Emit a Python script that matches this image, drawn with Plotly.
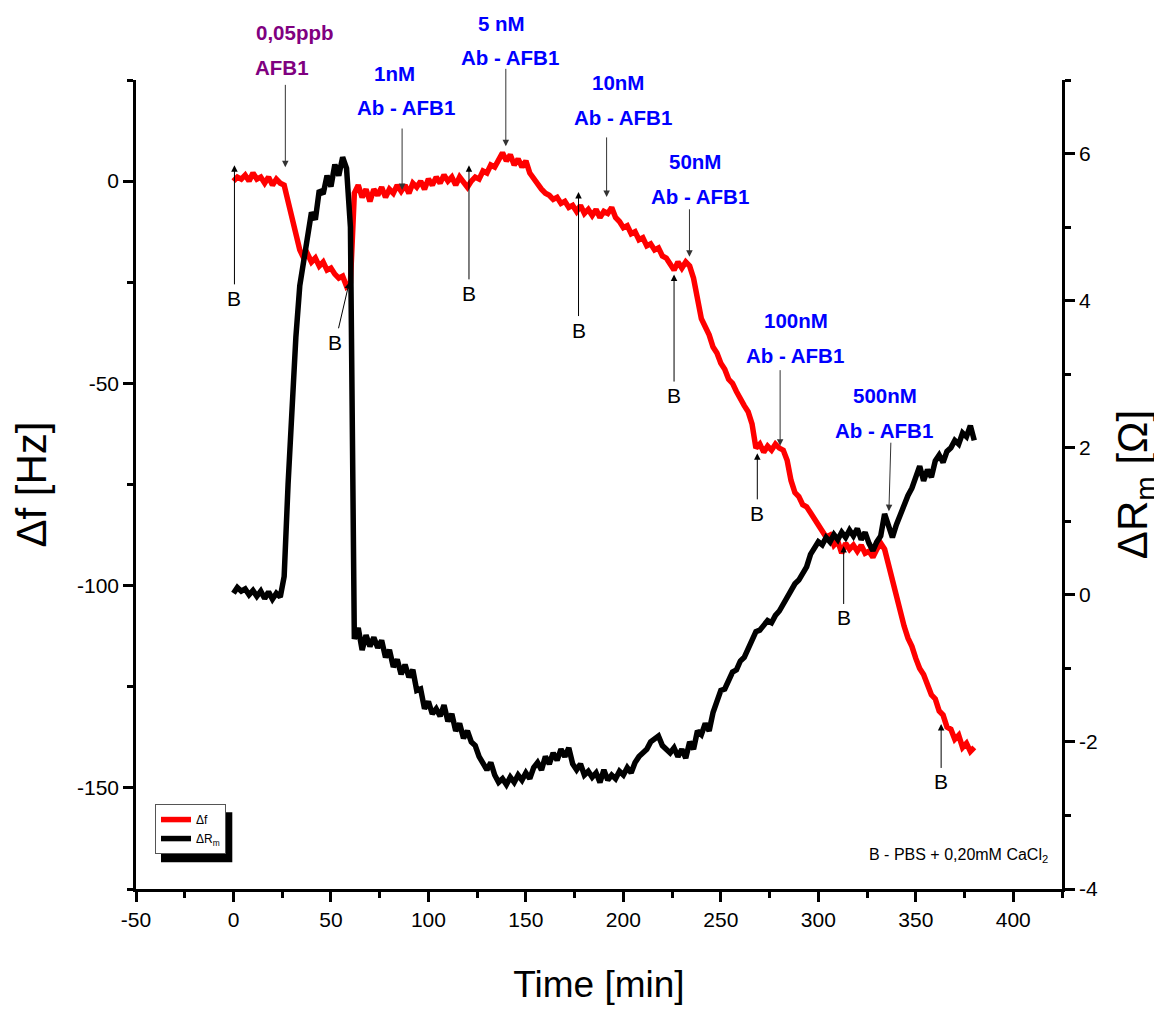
import plotly.graph_objects as go

time_min = list(range(0, 381, 2))

delta_f = [
    0, 1, 0.5, 1.5, 0, 2, 0.5, 1, -0.5, 1, -1, 0.5, -0.5, -1, -5, -9, -13, -17, -19, -18,
    -20, -19, -21, -20, -22, -21.5, -23, -24, -23.5, -26, -25, -3, -1, -4, -2, -5, -2, -3.5, -1.5, -4,
    -2, -3, -1, -2.5, -1, -3, -0.5, -1.5, 0, -2, 0.5, -1, 1, -0.5, 1.5, 0, 1, -1, 1, -0.5,
    -1.5, 0, 1, 0.5, 2.5, 2, 4, 3.5, 5.5, 7, 5, 6.5, 4, 5.5, 3.5, 5, 2, 0.5, -1, -2,
    -3, -3.5, -4.5, -4, -5.5, -5, -6.5, -6, -7.5, -6, -8, -7, -8.5, -7, -9, -7.5, -8, -6.5, -9, -10,
    -11.5, -11, -13, -12.5, -14.5, -14, -16, -15.5, -17, -16.5, -18.5, -19, -20.5, -22, -20, -21.5, -20, -21, -24, -29,
    -34, -36, -38, -41, -42.5, -45, -46.5, -49, -50, -52, -54, -55.5, -57, -60, -66, -65, -67, -65.5, -66.5, -65,
    -66, -66.5, -69, -74, -77, -78, -80, -80.5, -82, -83.5, -85, -86, -88, -87.5, -90, -89, -92, -89.5, -91, -90,
    -91.5, -90, -92, -91.5, -93, -91, -89.5, -91, -95, -98, -103, -106, -110, -113, -115, -118, -120.5, -122, -125, -127,
    -128, -131, -132, -135, -135.5, -138, -137, -140, -139, -141, -140,
]

delta_rm = [
    0.02, 0.1, 0.05, 0.08, 0.0, 0.06, -0.02, 0.05, -0.05, 0.04, -0.06, 0.02, -0.03, 0.25, 1.5, 2.6, 3.5, 4.2, 4.5, 4.9,
    5.2, 5.1, 5.5, 5.45, 5.7, 5.55, 5.85, 5.7, 5.95, 5.8, 5.0, -0.6, -0.45, -0.75, -0.55, -0.7, -0.58, -0.72, -0.62, -0.85,
    -0.75, -0.98, -0.88, -1.08, -0.95, -1.12, -1.02, -1.3, -1.28, -1.55, -1.45, -1.62, -1.55, -1.65, -1.5, -1.72, -1.62, -1.85, -1.75, -1.95,
    -1.85, -2.0, -2.05, -2.2, -2.3, -2.38, -2.28, -2.45, -2.55, -2.5, -2.58, -2.48, -2.55, -2.45, -2.52, -2.42, -2.5, -2.35, -2.28, -2.38,
    -2.2, -2.3, -2.15, -2.25, -2.1, -2.2, -2.08, -2.3, -2.38, -2.3, -2.45, -2.4, -2.48, -2.42, -2.55, -2.38, -2.52, -2.45, -2.5, -2.4,
    -2.45, -2.35, -2.42, -2.28, -2.2, -2.15, -2.1, -2.0, -1.95, -1.92, -2.05, -2.1, -2.15, -2.08, -2.2, -2.1, -2.22, -2.0, -2.1, -1.85,
    -1.9, -1.75, -1.85, -1.6, -1.45, -1.3, -1.28, -1.15, -1.05, -1.02, -0.9, -0.85, -0.72, -0.6, -0.5, -0.48, -0.42, -0.35, -0.38, -0.28,
    -0.22, -0.12, -0.02, 0.05, 0.15, 0.2, 0.28, 0.38, 0.55, 0.65, 0.72, 0.68, 0.78, 0.72, 0.82, 0.75, 0.85, 0.78, 0.88, 0.8,
    0.9, 0.75, 0.85, 0.7, 0.6, 0.72, 0.8, 1.1, 0.95, 0.78, 0.95, 1.1, 1.25, 1.35, 1.45, 1.6, 1.75, 1.55, 1.7, 1.6,
    1.82, 1.9, 1.8, 1.95, 2.0, 2.1, 2.05, 2.2, 2.15, 2.3, 2.1,
]

x_ticks = [-50, 0, 50, 100, 150, 200, 250, 300, 350, 400]
x_ticktext = ["-50", "0", "50", "100", "150", "200", "250", "300", "350", "400"]
yl_ticks = [-150, -100, -50, 0]
yl_ticktext = ["-150", "-100", "-50", "0"]
yr_ticks = [-4, -2, 0, 2, 4, 6]
yr_ticktext = ["-4", "-2", "0", "2", "4", "6"]

# injections: first line, second line, colour, arrow tip (data, left axis)
inj_line1 = ["0,05ppb", "1nM", "5 nM", "10nM", "50nM", "100nM", "500nM"]
inj_line2 = ["AFB1", "Ab - AFB1", "Ab - AFB1", "Ab - AFB1", "Ab - AFB1", "Ab - AFB1", "Ab - AFB1"]
inj_colors = ["#800080", "#0000FF", "#0000FF", "#0000FF", "#0000FF", "#0000FF", "#0000FF"]
inj_x = [26.6, 86.5, 139.7, 191.4, 233.9, 280.4, 336.2]
inj_y = [3.4, -2.2, 8.6, -3.9, -18.7, -65.4, -81.6]
# pixel offsets (arrow tail, text line positions)
inj_tail_dx = [0, 0, 0, 0, 0, 0, 2]
inj_tail_dy = [-84, -63, -79, -61, -49, -77, -70]
inj_l1_dx = [9, -7.5, -4, 11, 6, 16, -4]
inj_l1_dy = [135, 117, 123, 114, 95, 125, 116]
inj_l2_dx = [-3, 3.5, 4, 16, 11, 15, -5]
inj_l2_dy = [100, 83, 89, 79, 60, 90, 81]

# buffer (B) labels
b_x = [0.5, 59.4, 120.8, 177, 226, 268.7, 313, 363]
b_y = [3.9, -25, 3.9, -2.7, -23.1, -67.3, -90.2, -134.2]
b_ax = [0, -14, 0, 0, 0, 0, 0, 0]
b_ay = [133, 60, 128, 138, 121, 60, 72, 58]

FONT = "Liberation Sans, Arial, sans-serif"

fig = go.Figure()
fig.add_trace(go.Scatter(x=time_min, y=delta_f, mode="lines", name="Δf",
                         line=dict(color="#FF0000", width=5.5), yaxis="y"))
fig.add_trace(go.Scatter(x=time_min, y=delta_rm, mode="lines", name="ΔR<sub>m</sub>",
                         line=dict(color="#000000", width=5.5), yaxis="y2"))

annotations = []
for i in range(len(inj_x)):
    annotations.append(dict(x=inj_x[i], y=inj_y[i], xref="x", yref="y", text="",
                            showarrow=True, ax=inj_tail_dx[i], ay=inj_tail_dy[i],
                            arrowhead=2, arrowsize=1.3, arrowwidth=1,
                            arrowcolor="#333333", standoff=0))
    annotations.append(dict(x=inj_x[i], y=inj_y[i], xref="x", yref="y", text=inj_line1[i],
                            showarrow=False, xshift=inj_l1_dx[i], yshift=inj_l1_dy[i],
                            font=dict(family=FONT, size=20.5, color=inj_colors[i], weight="bold")))
    annotations.append(dict(x=inj_x[i], y=inj_y[i], xref="x", yref="y", text=inj_line2[i],
                            showarrow=False, xshift=inj_l2_dx[i], yshift=inj_l2_dy[i],
                            font=dict(family=FONT, size=20.5, color=inj_colors[i], weight="bold")))
for x, y, ax, ay in zip(b_x, b_y, b_ax, b_ay):
    annotations.append(dict(x=x, y=y, xref="x", yref="y", text="B", showarrow=True,
                            ax=ax, ay=ay, arrowhead=2, arrowsize=1.3, arrowwidth=1,
                            arrowcolor="#000000", standoff=0, startstandoff=1,
                            font=dict(family=FONT, size=21, color="#000000")))
annotations.append(dict(x=0.987, y=0.041, xref="paper", yref="paper", xanchor="right",
                        yanchor="middle", showarrow=False,
                        text="B - PBS + 0,20mM CaCl<sub>2</sub>",
                        font=dict(family=FONT, size=16, color="#000000")))

axis_common = dict(showline=True, linecolor="black", linewidth=2.5, ticks="outside",
                   ticklen=10, tickwidth=2.5, tickcolor="black", showgrid=False,
                   zeroline=False, tickfont=dict(family=FONT, size=21, color="black"))

fig.update_layout(
    width=1154, height=1003,
    margin=dict(l=125, r=100, t=72, b=121),
    paper_bgcolor="white", plot_bgcolor="white",
    showlegend=True,
    legend=dict(x=0.0205, y=0.105, xanchor="left", yanchor="top",
                bgcolor="white", bordercolor="#555555", borderwidth=1,
                font=dict(family=FONT, size=12, color="black"),
                itemwidth=30, tracegroupgap=0),
    xaxis=dict(range=[-50, 425], tickvals=x_ticks, ticktext=x_ticktext,
               minor=dict(dtick=25, tick0=-50, ticklen=6, tickwidth=2.5, tickcolor="black", ticks="outside"),
               title=dict(text="Time [min]", font=dict(family=FONT, size=37, color="black"),
                          standoff=42),
               **axis_common),
    yaxis=dict(range=[-175, 25], tickvals=yl_ticks, ticktext=yl_ticktext,
               minor=dict(dtick=25, tick0=0, ticklen=6, tickwidth=2.5, tickcolor="black", ticks="outside"),
               title=dict(text="Δf [Hz]", font=dict(family=FONT, size=42, color="black"),
                          standoff=28),
               **axis_common),
    yaxis2=dict(range=[-4, 7], tickvals=yr_ticks, ticktext=yr_ticktext,
                overlaying="y", side="right",
                minor=dict(dtick=1, tick0=0, ticklen=6, tickwidth=2.5, tickcolor="black", ticks="outside"),
                title=dict(text="ΔR<sub>m</sub> [Ω]", font=dict(family=FONT, size=42, color="black"),
                           standoff=22),
                **axis_common),
    annotations=annotations,
    shapes=[dict(type="rect", xref="paper", yref="paper", x0=0.027, x1=0.104,
                 y0=0.033, y1=0.095, fillcolor="black", line=dict(width=0), layer="above")],
)

fig.write_html("out.html")
